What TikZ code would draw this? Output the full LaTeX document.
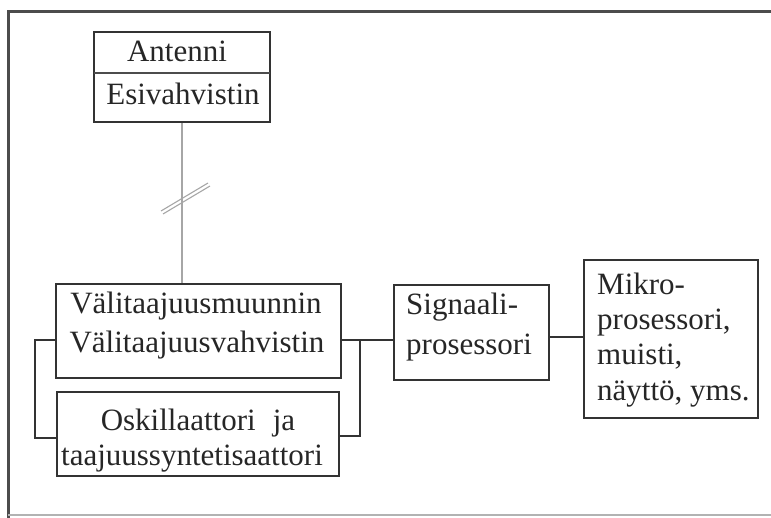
\documentclass[tikz,border=0pt]{standalone}
\usepackage{fontspec}
\setmainfont{Liberation Serif}
\begin{document}
\begin{tikzpicture}[x=1pt,y=-1pt,
  box/.style={draw=black!80, line width=2.2pt, rectangle, inner sep=0pt},
  txt/.style={text=black!85, font=\fontsize{31}{38}\selectfont, inner sep=0pt, anchor=base},
  wire/.style={draw=black!80, line width=1.8pt},
  feed/.style={draw=black!35, line width=1.6pt},
  frametop/.style={draw=black!70, line width=3pt},
  framebot/.style={draw=black!30, line width=1.6pt}]
\useasboundingbox (0,0) rectangle (771,518);
% frame
\coordinate (fTL) at (8,12);
\coordinate (fTR) at (771,12);
\coordinate (fBL) at (8,518);
\coordinate (fB1) at (8,515);
\coordinate (fB2) at (771,515);
\draw[frametop] (fTR) -- (fTL) -- (fBL);
\draw[framebot] (fB1) -- (fB2);
% boxes
\node[box, minimum width=176pt, minimum height=90pt] (ant) at (182,77) {};
\coordinate (divL) at (94,73);
\coordinate (divR) at (270,73);
\draw[draw=black!70, line width=1.1pt] (divL) -- (divR);
\node[txt] (antt) at (177,62) {Antenni};
\node[txt] (esi) at (183,105) {Esivahvistin};

\node[box, minimum width=285pt, minimum height=94pt] (V) at (198.5,331) {};
\node[txt] (v1) at (196,314) {Välitaajuusmuunnin};
\node[txt] (v2) at (197,353) {Välitaajuusvahvistin};

\node[box, minimum width=282pt, minimum height=84pt] (O) at (198,434) {};
\node[txt] (o1) at (198,431) {Oskillaattori\hspace{0.3em} ja};
\node[txt] (o2) at (192,465) {taajuussyntetisaattori};

\node[box, minimum width=155pt, minimum height=95pt] (S) at (471.5,332.5) {};
\node[txt, anchor=base west] (s1) at (406,315) {Signaali-};
\node[txt, anchor=base west] (s2) at (406,355) {prosessori};

\node[box, minimum width=174pt, minimum height=158pt] (M) at (671,339) {};
\node[txt, anchor=base west] (m1) at (597,295) {Mikro-};
\node[txt, anchor=base west] (m2) at (597,330) {prosessori,};
\node[txt, anchor=base west] (m3) at (597,365) {muisti,};
\node[txt, anchor=base west] (m4) at (597,401) {näyttö, yms.};

% antenna feed with break mark
\draw[feed] (ant.south) -- (ant.south |- V.north);
\coordinate (brk) at (184,197);
\draw[feed, line width=1.1pt] ([shift={(-23,14)}]brk) -- ([shift={(24,-14)}]brk);
\draw[feed, line width=1.1pt] ([shift={(-21,17)}]brk) -- ([shift={(26,-11)}]brk);

% signal chain
\coordinate (jR) at (360,340);
\coordinate (jL) at (35,340);
\draw[wire] (V.east |- jR) -- (S.west |- jR);
\draw[wire] (O.east |- 0,436) -| (jR);
\draw[wire] (V.west |- jL) -- (jL) |- (O.west |- 0,438);
\draw[wire] (S.east |- 0,337) -- (M.west |- 0,337);
\end{tikzpicture}
\end{document}
